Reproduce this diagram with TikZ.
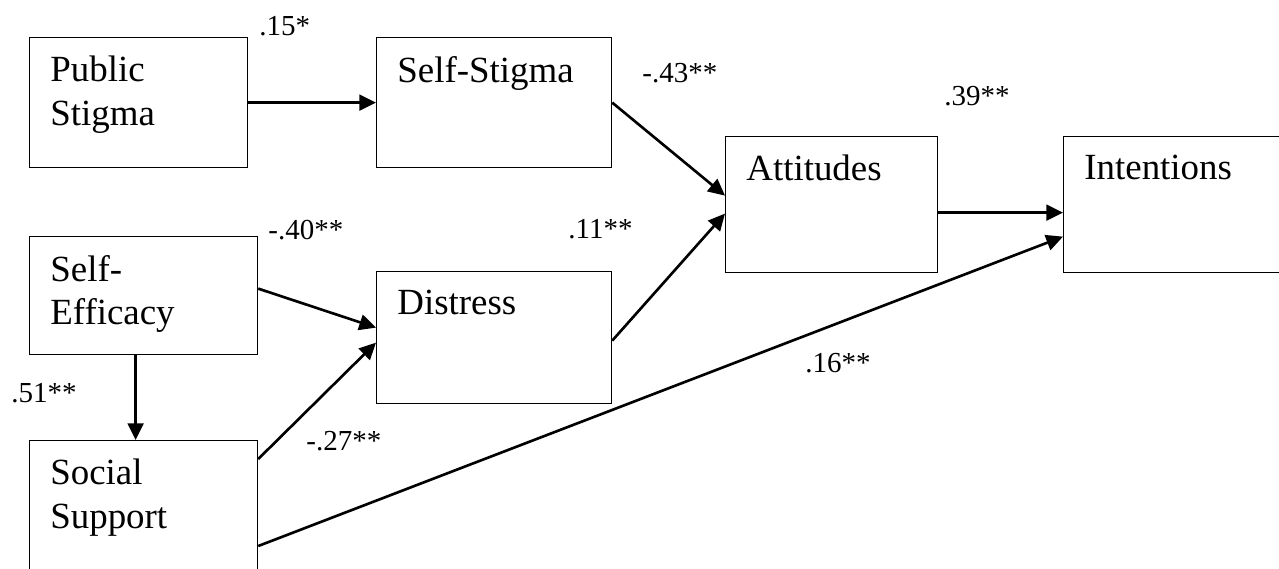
\documentclass[tikz,border=0pt]{standalone}
\usepackage{fontspec}
\setmainfont{Liberation Serif}
\usetikzlibrary{arrows.meta}

\begin{document}
\begin{tikzpicture}[
  box/.style={draw, line width=0.7pt, rectangle, anchor=north west, inner sep=0pt},
  boxtext/.style={anchor=north west, align=left, inner sep=0pt, xshift=0.42cm, yshift=-0.38cm,
    font=\fontsize{21}{24.5}\selectfont},
  effect/.style={line width=1.5pt, -{Triangle[length=9.5pt,width=9pt]}},
  coef/.style={anchor=base west, inner sep=0pt, font=\fontsize{16.5}{20}\selectfont}
]
  % Page frame
  \useasboundingbox (0,0) rectangle (25.58,-11.36);

  % Variables
  \node[box, minimum width=4.36cm, minimum height=2.6cm,
    label={[boxtext]north west:Public\\Stigma}] (pub) at (0.58,-0.74) {};
  \node[box, minimum width=4.70cm, minimum height=2.6cm,
    label={[boxtext]north west:Self-Stigma}] (self) at (7.52,-0.74) {};
  \node[box, minimum width=4.56cm, minimum height=2.36cm,
    label={[boxtext]north west:Self-\\Efficacy}] (eff) at (0.58,-4.72) {};
  \node[box, minimum width=4.70cm, minimum height=2.64cm,
    label={[boxtext]north west:Distress}] (dist) at (7.52,-5.42) {};
  \node[box, minimum width=4.56cm, minimum height=3.2cm,
    label={[boxtext]north west:Social\\Support}] (soc) at (0.58,-8.80) {};
  \node[box, minimum width=4.24cm, minimum height=2.72cm,
    label={[boxtext]north west:Attitudes}] (att) at (14.50,-2.72) {};
  \node[box, minimum width=8cm, minimum height=2.72cm,
    label={[boxtext]north west:Intentions}] (int) at (21.26,-2.72) {};

  % Paths
  \draw[effect] (pub.east) -- (self.west);
  \draw[effect] (self.east) -- ([yshift=0.18cm]att.west);
  \draw[effect] ([yshift=-0.06cm]dist.east) -- ([yshift=-0.18cm]att.west);
  \draw[effect] ([yshift=-0.16cm]att.east) -- ([yshift=-0.16cm]int.west);
  \draw[effect] ([yshift=0.14cm]eff.east) -- ([yshift=0.2cm]dist.west);
  \draw[effect] ([yshift=-0.38cm]soc.north east) -- ([yshift=-0.1cm]dist.west);
  \draw[effect] ([yshift=-2.12cm]soc.north east) -- ([yshift=-0.64cm]int.west);
  \draw[effect] ([xshift=-0.16cm]eff.south) -- ([xshift=-0.16cm]soc.north);

  % Coefficients
  \node[coef] (c1) at (5.18,-0.70) {.15*};
  \node[coef] (c2) at (12.84,-1.64) {-.43**};
  \node[coef] (c3) at (18.88,-2.10) {.39**};
  \node[coef] (c4) at (5.36,-4.78) {-.40**};
  \node[coef] (c5) at (11.36,-4.76) {.11**};
  \node[coef] (c6) at (0.22,-8.04) {.51**};
  \node[coef] (c7) at (6.12,-9.00) {-.27**};
  \node[coef] (c8) at (16.10,-7.44) {.16**};
\end{tikzpicture}
\end{document}
